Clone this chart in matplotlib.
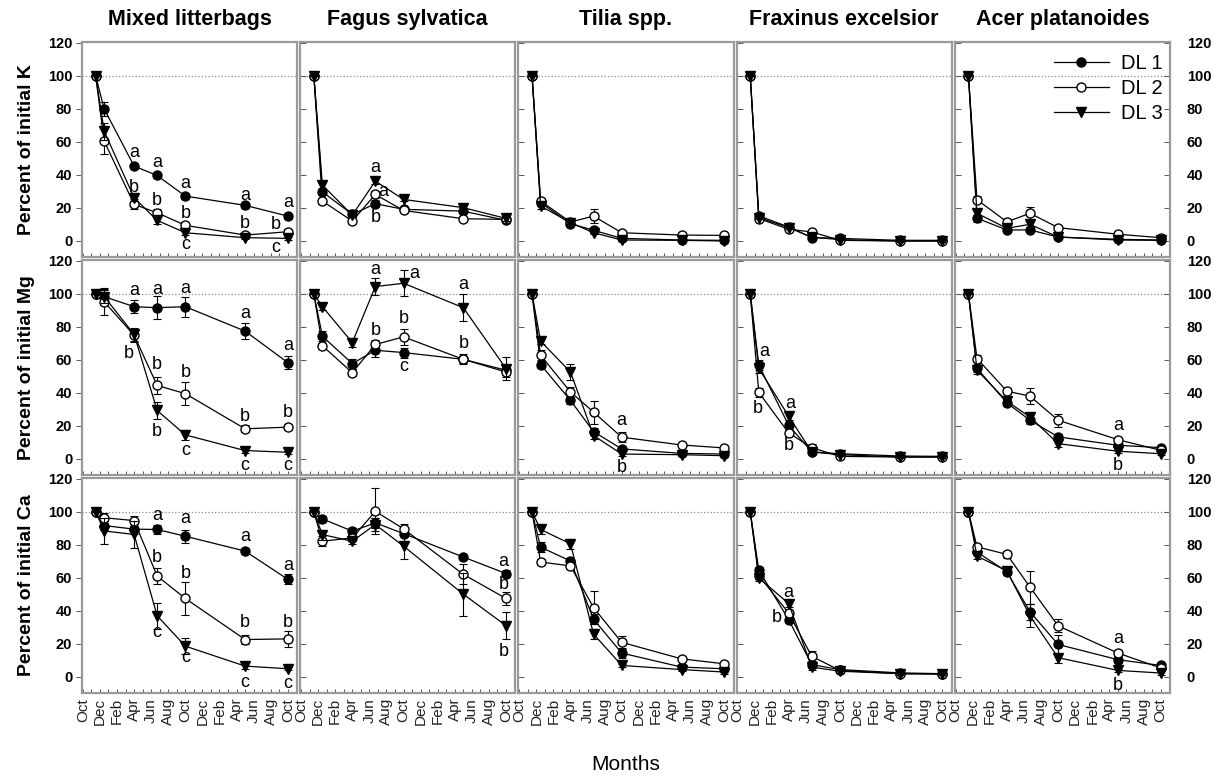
import numpy as np
import matplotlib.pyplot as plt
from matplotlib.lines import Line2D

plt.rcParams['font.family'] = ['Liberation Sans', 'DejaVu Sans']

# sampling dates in months after the start (Oct), first value is the 100 % start
sample_months = [1.5, 2.5, 6.0, 8.7, 12.0, 19.0, 24.0]
month_labels = ['Oct', 'Dec', 'Feb', 'Apr', 'Jun', 'Aug'] * 2 + ['Oct']
species = ['Mixed litterbags', 'Fagus sylvatica', 'Tilia spp.',
           'Fraxinus excelsior', 'Acer platanoides']
elements = ['K', 'Mg', 'Ca']
series_names = ['DL 1', 'DL 2', 'DL 3']

# ---- K ---- (DL 1, DL 2, DL 3)
k_mixed = [[100, 80.0, 45.4, 39.7, 27.2, 21.6, 15.1],
           [100, 60.5, 22.2, 17.1, 9.5, 3.6, 5.6],
           [100, 66.5, 26.2, 12.5, 5.0, 2.0, 1.6]]
k_fagus = [[100, 29.8, 16.1, 22.6, 19.2, 18.1, 12.5],
           [100, 24.2, 12.1, 28.2, 18.5, 13.5, 13.1],
           [100, 33.9, 15.7, 36.3, 25.2, 20.2, 13.7]]
k_tilia = [[100, 23.2, 10.5, 6.5, 1.6, 0.6, 0.4],
           [100, 24.2, 11.5, 15.1, 5.0, 3.6, 3.4],
           [100, 21.2, 11.1, 5.0, 0.6, 0.4, 0.0]]
k_fraxinus = [[100, 15.2, 8.5, 2.0, 1.6, 0.4, 0.4],
              [100, 13.6, 7.1, 5.5, 0.4, 0.0, 0.0],
              [100, 14.2, 8.1, 2.4, 0.8, 0.0, 0.0]]
k_acer = [[100, 13.8, 6.7, 6.7, 2.4, 1.0, 0.6],
          [100, 25.0, 11.6, 16.8, 8.1, 4.1, 2.0],
          [100, 16.8, 7.7, 10.1, 2.4, 0.6, 0.4]]

k_mixed_err = [[0, 4, 1.5, 1.5, 1.5, 1.5, 1.5], [0, 8, 3, 2, 2, 1.5, 1.5], [0, 5, 2, 2, 1.5, 1, 1]]
k_fagus_err = [[0, 2, 1, 2, 1, 1, 1], [0, 2, 1, 2, 1, 1, 1], [0, 2, 1, 2, 1, 1, 1.5]]
k_tilia_err = [[0, 2, 1, 1, 1, 0.5, 0.5], [0, 2, 1.5, 4, 1, 0.5, 0.5], [0, 2, 1, 1, 0.5, 0.5, 0.5]]
k_fraxinus_err = [[0, 1, 1, 1, 1, 0.5, 0.5], [0, 1, 1, 1, 0.5, 0.5, 0.5], [0, 1, 1, 1, 0.5, 0.5, 0.5]]
k_acer_err = [[0, 2, 1, 1, 0.5, 0.5, 0.5], [0, 2, 1.5, 3.5, 1, 0.5, 0.5], [0, 2, 1, 1.5, 0.5, 0.5, 0.5]]

# ---- Mg ----
mg_mixed = [[100, 98.4, 92.3, 91.7, 92.3, 77.5, 58.4],
            [100, 95.3, 75.0, 44.6, 39.6, 18.3, 19.3],
            [100, 98.4, 75.5, 29.4, 14.6, 5.1, 4.1]]
mg_fagus = [[100, 74.4, 57.8, 65.9, 64.5, 60.4, 53.8],
            [100, 68.6, 52.3, 69.4, 74.0, 60.4, 52.7],
            [100, 92.3, 70.6, 104.5, 106.5, 91.7, 54.8]]
mg_tilia = [[100, 57.2, 35.5, 16.6, 6.1, 3.4, 3.0],
            [100, 62.9, 40.6, 28.4, 13.2, 8.5, 6.7],
            [100, 71.4, 52.7, 14.2, 3.0, 2.6, 2.0]]
mg_fraxinus = [[100, 56.9, 20.4, 4.3, 3.2, 1.8, 1.6],
               [100, 40.3, 15.8, 6.9, 1.6, 1.2, 1.2],
               [100, 54.9, 25.9, 4.3, 2.6, 1.2, 1.2]]
mg_acer = [[100, 54.9, 34.0, 23.5, 13.4, 8.3, 6.9],
           [100, 60.9, 41.1, 38.1, 23.5, 11.7, 5.3],
           [100, 53.8, 35.0, 25.5, 9.3, 4.7, 3.2]]

mg_mixed_err = [[0, 5, 4, 7, 6, 5, 4], [0, 8, 4, 5, 7, 2, 2], [0, 4, 4, 5, 3, 1.5, 1]]
mg_fagus_err = [[0, 3, 3, 4, 3, 2, 3], [0, 2, 2, 3, 5, 3, 3], [0, 2, 3, 5, 8, 8, 7]]
mg_tilia_err = [[0, 2, 2, 2, 1, 1, 1], [0, 3, 3, 7, 3, 1, 1], [0, 2, 5, 2, 1, 0.5, 0.5]]
mg_fraxinus_err = [[0, 3, 2, 1, 1, 0.5, 0.5], [0, 3, 2, 2, 0.5, 0.5, 0.5], [0, 3, 2, 1, 0.5, 0.5, 0.5]]
mg_acer_err = [[0, 2, 2, 2, 2, 1, 1], [0, 2, 2, 5, 4, 1, 1], [0, 2, 2, 2, 2, 1, 1]]

# ---- Ca ----
ca_mixed = [[100, 91.8, 89.6, 89.4, 85.3, 76.3, 59.2],
            [100, 96.5, 94.8, 61.2, 47.6, 22.7, 23.1],
            [100, 88.5, 86.4, 37.1, 18.7, 6.6, 5.0]]
ca_fagus = [[100, 95.8, 88.4, 93.4, 86.9, 72.7, 62.7],
            [100, 82.3, 84.3, 100.4, 89.8, 62.2, 47.6],
            [100, 86.3, 82.3, 92.4, 79.3, 50.2, 31.1]]
ca_tilia = [[100, 78.7, 70.3, 35.0, 14.5, 6.0, 5.0],
            [100, 69.7, 67.3, 42.0, 21.0, 11.0, 8.0],
            [100, 89.4, 80.7, 26.0, 7.0, 4.5, 3.0]]
ca_fraxinus = [[100, 64.7, 34.7, 7.5, 4.5, 2.5, 2.0],
               [100, 61.5, 38.7, 12.5, 4.0, 2.0, 1.8],
               [100, 60.0, 44.5, 6.0, 3.5, 2.0, 1.8]]
ca_acer = [[100, 75.7, 63.8, 39.5, 19.7, 10.5, 7.0],
           [100, 78.9, 74.3, 54.5, 31.0, 14.5, 5.5],
           [100, 73.3, 64.3, 37.0, 11.7, 4.0, 2.4]]

ca_mixed_err = [[0, 3, 3, 3, 4, 2, 3], [0, 3, 3, 5, 10, 3, 5], [0, 8, 8, 8, 5, 2, 1]]
ca_fagus_err = [[0, 2, 2, 3, 2, 1, 2], [0, 3, 2, 14, 3, 6, 4], [0, 3, 2, 4, 8, 13, 8]]
ca_tilia_err = [[0, 3, 2, 3, 3, 1, 1], [0, 2, 2, 10, 4, 1, 1], [0, 3, 3, 3, 1, 1, 1]]
ca_fraxinus_err = [[0, 2, 2, 2, 1, 0.5, 0.5], [0, 2, 2, 3, 1, 0.5, 0.5], [0, 2, 2, 2, 1, 0.5, 0.5]]
ca_acer_err = [[0, 2, 2, 5, 6, 2, 1], [0, 2, 2, 10, 4, 2, 1], [0, 2, 2, 7, 3, 1, 1]]

# significance letters: (month, value, letter)
k_mixed_letters = [(6.0, 53.4, 'a'), (6.0, 32.7, 'b'), (8.7, 47.4, 'a'), (8.7, 24.6, 'b'),
                   (12.0, 34.7, 'a'), (12.0, 16.5, 'b'), (12.0, -2.4, 'c'),
                   (19.0, 27.8, 'a'), (19.0, 10.5, 'b'),
                   (24.0, 23.2, 'a'), (22.6, 10.1, 'b'), (22.6, -4.0, 'c')]
k_fagus_letters = [(8.7, 44.4, 'a'), (9.6, 30.2, 'a'), (8.7, 14.1, 'b')]
mg_mixed_letters = [(6.0, 102.4, 'a'), (5.4, 63.9, 'b'),
                    (8.7, 102.8, 'a'), (8.7, 57.2, 'b'), (8.7, 16.6, 'b'),
                    (12.0, 103.4, 'a'), (12.0, 52.3, 'b'), (12.0, 5.1, 'c'),
                    (19.0, 88.2, 'a'), (19.0, 25.8, 'b'), (19.0, -3.7, 'c'),
                    (24.0, 69.0, 'a'), (24.0, 28.4, 'b'), (24.0, -4.1, 'c')]
mg_fagus_letters = [(8.7, 114.6, 'a'), (8.7, 78.1, 'b'), (13.2, 112.6, 'a'),
                    (12.0, 85.2, 'b'), (12.0, 55.8, 'c'), (19.0, 105.5, 'a'), (19.0, 70.0, 'b')]
mg_tilia_letters = [(12.0, 23.3, 'a'), (12.0, -5.1, 'b')]
mg_fraxinus_letters = [(3.1, 65.0, 'a'), (2.4, 30.6, 'b'), (6.2, 33.6, 'a'), (6.0, 8.3, 'b')]
mg_acer_letters = [(19.0, 20.4, 'a'), (19.0, -3.8, 'b')]
ca_mixed_letters = [(8.7, 97.8, 'a'), (8.7, 72.3, 'b'), (8.7, 27.1, 'c'),
                    (12.0, 95.8, 'a'), (12.0, 62.7, 'b'), (12.0, 12.0, 'c'),
                    (19.0, 84.9, 'a'), (19.0, 33.1, 'b'), (19.0, -3.4, 'c'),
                    (24.0, 67.7, 'a'), (24.0, 33.1, 'b'), (24.0, -4.0, 'c')]
ca_fagus_letters = [(23.7, 69.7, 'a'), (23.7, 56.2, 'b'), (23.7, 15.5, 'b')]
ca_fraxinus_letters = [(5.9, 51.2, 'a'), (4.6, 36.1, 'b')]
ca_acer_letters = [(19.0, 23.1, 'a'), (19.0, -5.0, 'b')]

rows = [
    [(k_mixed, k_mixed_err, k_mixed_letters), (k_fagus, k_fagus_err, k_fagus_letters),
     (k_tilia, k_tilia_err, []), (k_fraxinus, k_fraxinus_err, []), (k_acer, k_acer_err, [])],
    [(mg_mixed, mg_mixed_err, mg_mixed_letters), (mg_fagus, mg_fagus_err, mg_fagus_letters),
     (mg_tilia, mg_tilia_err, mg_tilia_letters), (mg_fraxinus, mg_fraxinus_err, mg_fraxinus_letters),
     (mg_acer, mg_acer_err, mg_acer_letters)],
    [(ca_mixed, ca_mixed_err, ca_mixed_letters), (ca_fagus, ca_fagus_err, ca_fagus_letters),
     (ca_tilia, ca_tilia_err, []), (ca_fraxinus, ca_fraxinus_err, ca_fraxinus_letters),
     (ca_acer, ca_acer_err, ca_acer_letters)],
]

marker_styles = [dict(marker='o', mfc='black'),
                 dict(marker='o', mfc='white'),
                 dict(marker='v', mfc='black')]
frame_color = '#9a9a9a'


def draw_panel(ax, values, errors, letters):
    ''' draws three decomposition series with error bars and letters '''
    ax.axhline(100, ls=':', color='#8a8a8a', lw=0.9, zorder=0)
    for idx, (vals, errs) in enumerate(zip(values, errors)):
        ax.errorbar(sample_months, vals, yerr=errs, color='black', mec='black',
                    ms=6.5, lw=0.9, elinewidth=0.8, capsize=3, capthick=0.8,
                    zorder=2 + idx, **marker_styles[idx])
    for x, y, txt in letters:
        ax.text(x, y, txt, ha='center', va='center', fontsize=13, zorder=10)


fig = plt.figure(figsize=(12.2, 7.82), dpi=100)
W, H = 1220, 782
col_left = [82, 300.2, 518.4, 736.6, 954.8]
col_width = 215.2
row_top = [42, 260, 478]
row_height = 215

for r, row in enumerate(rows):
    for c, (values, errors, letters) in enumerate(row):
        ax = fig.add_axes([col_left[c] / W, 1 - (row_top[r] + row_height) / H,
                           col_width / W, row_height / H])
        draw_panel(ax, values, errors, letters)

        ax.set_xlim(-0.1, 25.1)
        ax.set_ylim(-9.7, 120.6)
        ax.set_xticks(np.arange(0, 25, 2))
        ax.set_xticks(np.arange(0, 25, 1), minor=True)
        ax.set_yticks(np.arange(0, 121, 20))
        for sp in ax.spines.values():
            sp.set_color(frame_color) # grey frame like the original
            sp.set_linewidth(1.6)

        ax.tick_params(axis='x', which='both', direction='in', length=3,
                       width=0.7, color='#555555', top=False)
        if r == 2:
            ax.set_xticklabels(month_labels, rotation=90, fontsize=11, color='#222222')
        else:
            ax.set_xticklabels([])

        # y ticks: outward on the far left, inward elsewhere, labels only on outer columns
        if c == 0:
            ax.tick_params(axis='y', direction='out', length=4, width=0.7,
                           color='#555555', labelsize=10.5, pad=3)
            for lab in ax.get_yticklabels():
                lab.set_fontweight('bold')
        elif c == 4:
            ax.tick_params(axis='y', direction='in', length=4, width=0.7, color='#555555',
                           right=True, labelright=True, labelleft=False,
                           labelsize=10.5, pad=12)
            for lab in ax.get_yticklabels():
                lab.set_fontweight('bold')
        else:
            ax.tick_params(axis='y', direction='in', length=4, width=0.7,
                           color='#555555', labelleft=False)

        if r == 0:
            ax.set_title(species[c], fontsize=15.5, fontweight='bold', pad=12)
        if r == 0 and c == 4:
            # legend shows plain line + marker, no error bars
            handles = [Line2D([], [], color='black', mec='black', ms=6.5, lw=0.9, **st)
                       for st in marker_styles]
            ax.legend(handles, series_names, loc='upper right', bbox_to_anchor=(0.965, 0.945),
                      frameon=False, fontsize=14.5, handlelength=2.7, handletextpad=0.6,
                      labelspacing=0.3, borderpad=0, borderaxespad=0)

    # row label on the left
    fig.text(27 / W, 1 - (row_top[r] + row_height / 2) / H, 'Percent of initial ' + elements[r],
             rotation=90, ha='center', va='center', fontsize=14, fontweight='bold')

fig.text(626 / W, 1 - 765 / H, 'Months', ha='center', va='center', fontsize=15)

plt.savefig('out.png', dpi=100)
